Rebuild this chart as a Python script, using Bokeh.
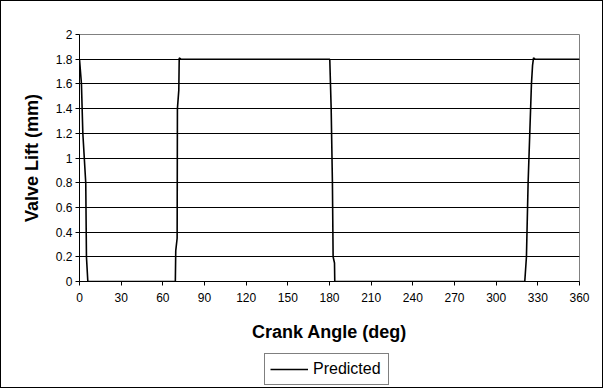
from bokeh.plotting import figure
from bokeh.layouts import column
from bokeh.models import FixedTicker, Legend, LegendItem, Range1d
from bokeh.embed import file_html
from bokeh.resources import INLINE

# Predicted valve lift over one revolution
angle = [0, 1.4, 2.4, 4.5, 5, 6, 69, 69.3, 70.3, 70.5, 71.5, 71.8, 73,
         180.2, 181.2, 182.1, 182.6, 183.6, 183.8,
         320.6, 321.8, 323, 324.2, 325.4, 326.2, 326.9, 328, 360]
lift = [1.8, 1.6, 1.2, 0.8, 0.2, 0, 0, 0.25, 0.35, 1.4, 1.55, 1.81, 1.8,
        1.8, 1.4, 0.8, 0.2, 0.15, 0,
        0, 0.2, 0.8, 1.2, 1.6, 1.75, 1.81, 1.8, 1.8]

x_ticks = [0, 30, 60, 90, 120, 150, 180, 210, 240, 270, 300, 330, 360]
y_ticks = [0, 0.2, 0.4, 0.6, 0.8, 1.0, 1.2, 1.4, 1.6, 1.8, 2.0]
y_tick_labels = ["0", "0.2", "0.4", "0.6", "0.8", "1", "1.2", "1.4", "1.6", "1.8", "2"]

FONT = "Liberation Sans"
LINE_COLOR = "black"
LINE_WIDTH = 1.6

# main chart
p = figure(width=601, height=349, output_backend="svg", toolbar_location=None,
           x_range=Range1d(0, 360), y_range=Range1d(0, 2),
           min_border_left=78, min_border_right=23,
           min_border_top=33, min_border_bottom=69)

p.background_fill_color = "white"
p.border_fill_color = "white"
p.outline_line_color = "#808080"
p.outline_line_width = 1

# grid: horizontal lines only
p.xgrid.grid_line_color = None
p.ygrid.grid_line_color = "black"
p.ygrid.grid_line_width = 1
p.ygrid.ticker = FixedTicker(ticks=y_ticks)

p.xaxis.ticker = FixedTicker(ticks=x_ticks)
p.yaxis.ticker = FixedTicker(ticks=y_ticks)
p.yaxis.major_label_overrides = {t: s for t, s in zip(y_ticks, y_tick_labels)}

for ax in (p.xaxis, p.yaxis):
    ax.axis_line_color = "black"
    ax.axis_line_width = 1
    ax.major_tick_line_color = "black"
    ax.major_tick_in = 0
    ax.major_tick_out = 4
    ax.minor_tick_line_color = None
    ax.major_label_text_font = FONT
    ax.major_label_text_font_size = "12px"
    ax.major_label_text_color = "black"
    ax.axis_label_text_font = FONT
    ax.axis_label_text_font_size = "18px"
    ax.axis_label_text_font_style = "bold"
    ax.axis_label_text_color = "black"

p.xaxis.axis_label = "Crank Angle (deg)"
p.yaxis.axis_label = "Valve Lift (mm)"
p.xaxis.major_label_standoff = 7
p.yaxis.major_label_standoff = 3
p.xaxis.axis_label_standoff = 17
p.yaxis.axis_label_standoff = 11

p.line(angle, lift, line_color=LINE_COLOR, line_width=LINE_WIDTH)

# legend strip underneath the chart (its frame lines up with the chart's frame)
lg = figure(width=601, height=37, output_backend="svg", toolbar_location=None,
            x_range=Range1d(0, 1), y_range=Range1d(0, 1),
            x_axis_location=None, y_axis_location=None,
            min_border=0, min_border_left=0, min_border_right=0,
            min_border_top=0, min_border_bottom=0)
lg.outline_line_color = None
lg.grid.visible = False
lg.border_fill_color = "white"
# single-point line: draws nothing itself, only supplies the legend swatch style
proxy = lg.line(x=[0], y=[0], line_color=LINE_COLOR, line_width=LINE_WIDTH)

legend = Legend(items=[LegendItem(label="Predicted", renderers=[proxy])],
                location=(185, 2), orientation="vertical",
                border_line_color="black", border_line_width=1,
                background_fill_color="white", background_fill_alpha=1,
                padding=5, spacing=0, margin=0,
                glyph_width=38, glyph_height=20, label_height=20,
                label_width=70, label_standoff=5,
                label_text_font=FONT, label_text_font_size="16px",
                label_text_color="black")
lg.add_layout(legend, "center")

page = column(p, lg, spacing=0)
page.styles = {"border": "1px solid black"}

open("out.html", "w").write(file_html(page, INLINE))
